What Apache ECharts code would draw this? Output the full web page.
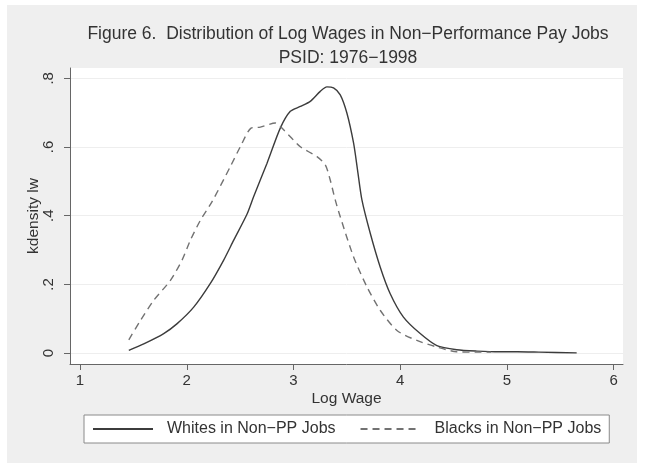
<!DOCTYPE html>
<html>
<head>
<meta charset="utf-8">
<script src="https://cdn.jsdelivr.net/npm/echarts@6/dist/echarts.min.js"></script>
<style>
html,body{margin:0;padding:0;background:#fff;}
#chart{width:649px;height:463px;}
</style>
</head>
<body>
<div id="chart"></div>
<script>
// ---- data ----
const titleText = 'Figure 6.  Distribution of Log Wages in Non\u2212Performance Pay Jobs';
const subtitleText = 'PSID: 1976\u22121998';
const xAxisTitle = 'Log Wage';
const yAxisTitle = 'kdensity lw';
const seriesNames = ['Whites in Non\u2212PP Jobs', 'Blacks in Non\u2212PP Jobs'];
const xTicks = [1, 2, 3, 4, 5, 6];
const yTicks = [0, 0.2, 0.4, 0.6, 0.8];

const whitesX = [1.457, 1.597, 1.784, 1.910, 2.065, 2.221, 2.346, 2.440, 2.565, 2.627, 2.752, 2.876, 2.970, 3.064, 3.157, 3.251, 3.313, 3.375, 3.438, 3.500, 3.563, 3.600, 3.641, 3.719, 3.812, 3.906, 4.030, 4.187, 4.343, 4.530, 4.717, 4.930, 5.100, 5.300, 5.653];
const whitesY = [0.008, 0.027, 0.057, 0.086, 0.134, 0.203, 0.271, 0.329, 0.405, 0.456, 0.553, 0.655, 0.704, 0.718, 0.733, 0.762, 0.775, 0.772, 0.752, 0.699, 0.611, 0.533, 0.446, 0.349, 0.251, 0.173, 0.105, 0.057, 0.022, 0.010, 0.006, 0.004, 0.004, 0.003, 0.001];

const blacksX = [1.457, 1.566, 1.691, 1.847, 1.956, 2.034, 2.128, 2.237, 2.408, 2.502, 2.602, 2.689, 2.830, 2.907, 3.064, 3.220, 3.298, 3.344, 3.391, 3.438, 3.563, 3.688, 3.812, 3.969, 4.156, 4.343, 4.530, 4.717, 4.850];
const blacksY = [0.039, 0.095, 0.154, 0.212, 0.271, 0.329, 0.387, 0.441, 0.543, 0.601, 0.655, 0.658, 0.670, 0.650, 0.601, 0.572, 0.548, 0.504, 0.446, 0.397, 0.280, 0.193, 0.125, 0.066, 0.037, 0.018, 0.004, 0.003, 0.003];

const pairs = (xs, ys) => xs.map((x, i) => [x, ys[i]]);
const FONT = '"Liberation Sans", Arial, Helvetica, sans-serif';
const TXT = '#333333';

const chart = echarts.init(document.getElementById('chart'), null, {renderer: 'canvas'});
chart.setOption({
  backgroundColor: '#ffffff',
  animation: false,
  textStyle: {fontFamily: FONT, color: TXT},
  graphic: [{
    type: 'rect', z: -100, silent: true,
    shape: {x: 7, y: 5, width: 630, height: 460},
    style: {fill: '#efefef'}
  }],
  title: {
    text: titleText,
    subtext: subtitleText,
    left: 348,
    textAlign: 'center',
    top: 25,
    padding: 0,
    itemGap: 6,
    textStyle: {fontFamily: FONT, fontSize: 17.5, fontWeight: 'normal', color: TXT},
    subtextStyle: {fontFamily: FONT, fontSize: 17.5, color: TXT}
  },
  grid: {
    left: 70, right: 26, top: 68, bottom: 99,
    show: true, backgroundColor: '#ffffff', borderWidth: 0
  },
  xAxis: {
    type: 'value',
    min: 0.906, max: 6.087,
    name: xAxisTitle,
    nameLocation: 'middle',
    nameGap: 27,
    nameMoveOverlap: false,
    nameTextStyle: {fontFamily: FONT, fontSize: 15.5, color: TXT},
    axisLine: {show: true, onZero: false, lineStyle: {color: '#666666', width: 1}},
    axisTick: {show: true, length: 6, customValues: xTicks, lineStyle: {color: '#666666'}},
    axisLabel: {customValues: xTicks, margin: 9, fontSize: 15, color: TXT, fontFamily: FONT},
    splitLine: {show: false}
  },
  yAxis: {
    type: 'value',
    min: -0.0315, max: 0.830,
    name: yAxisTitle,
    nameLocation: 'middle',
    nameGap: 28,
    nameRotate: 90,
    nameMoveOverlap: false,
    nameTextStyle: {fontFamily: FONT, fontSize: 15.5, color: TXT},
    axisLine: {show: true, onZero: false, lineStyle: {color: '#666666', width: 1}},
    axisTick: {show: true, length: 6, customValues: yTicks, lineStyle: {color: '#666666'}},
    axisLabel: {
      customValues: yTicks, rotate: 90, margin: 14, fontSize: 15, color: TXT, fontFamily: FONT,
      formatter: v => (Math.abs(v) < 1e-9 ? '0' : String(Math.round(v * 10) / 10).replace(/^0\./, '.'))
    },
    splitLine: {show: true, lineStyle: {color: '#eeeeee', width: 1}}
  },
  legend: {
    data: seriesNames,
    left: 84, top: 415,
    orient: 'horizontal',
    padding: [6, 8, 6, 8],
    itemWidth: 60, itemHeight: 14, itemGap: 24,
    itemStyle: {opacity: 0, borderWidth: 0},
    backgroundColor: '#ffffff',
    borderColor: '#8a8a8a', borderWidth: 1, borderRadius: 0,
    textStyle: {fontFamily: FONT, fontSize: 16, color: TXT, padding: [0, 0, 0, 9]}
  },
  series: [
    {
      name: seriesNames[0], type: 'line', symbol: 'none', smooth: 0.25,
      data: pairs(whitesX, whitesY),
      lineStyle: {color: '#3c3c3c', width: 1.4, type: 'solid'},
      itemStyle: {color: '#3c3c3c'}
    },
    {
      name: seriesNames[1], type: 'line', symbol: 'none', smooth: 0.25,
      data: pairs(blacksX, blacksY),
      lineStyle: {color: '#727272', width: 1.4, type: [7, 5]},
      itemStyle: {color: '#727272'}
    }
  ]
});
</script>
</body>
</html>
